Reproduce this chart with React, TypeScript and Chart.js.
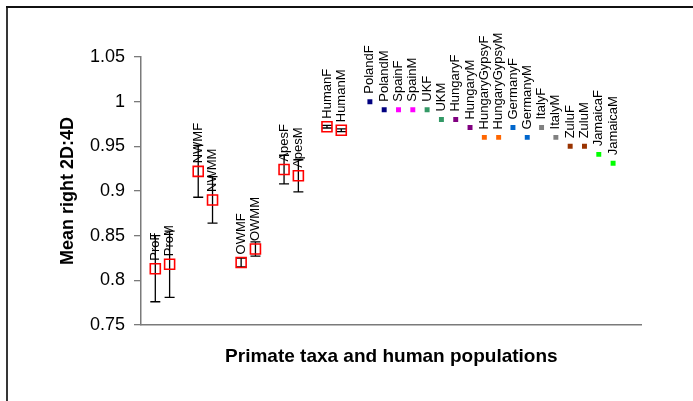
import React, { useEffect, useRef } from 'react';
import { Chart, registerables } from 'chart.js';

Chart.register(...registerables);

// Slots along the x axis (blank strings are empty gaps between groups)
const categories = [
  'ProF', 'ProM', '', 'NWMF', 'NWMM', '', 'OWMF', 'OWMM', '', 'ApesF', 'ApesM', '',
  'HumanF', 'HumanM', '', 'PolandF', 'PolandM', 'SpainF', 'SpainM', 'UKF', 'UKM',
  'HungaryF', 'HungaryM', 'HungaryGypsyF', 'HungaryGypsyM', 'GermanyF', 'GermanyM',
  'ItalyF', 'ItalyM', 'ZuluF', 'ZuluM', 'JamaicaF', 'JamaicaM',
];

const primateLabels = ['ProF', 'ProM', 'NWMF', 'NWMM', 'OWMF', 'OWMM', 'ApesF', 'ApesM', 'HumanF', 'HumanM'];
const primateMeans = [0.813, 0.818, 0.922, 0.890, 0.820, 0.835, 0.924, 0.917, 0.972, 0.968];
const primateErrors = [0.037, 0.037, 0.029, 0.026, 0.005, 0.008, 0.016, 0.018, 0.0015, 0.0015];

const populationLabels = [
  'PolandF', 'PolandM', 'SpainF', 'SpainM', 'UKF', 'UKM', 'HungaryF', 'HungaryM',
  'HungaryGypsyF', 'HungaryGypsyM', 'GermanyF', 'GermanyM', 'ItalyF', 'ItalyM',
  'ZuluF', 'ZuluM', 'JamaicaF', 'JamaicaM',
];
const populationMeans = [
  1.000, 0.991, 0.991, 0.991, 0.991, 0.980, 0.980, 0.971,
  0.960, 0.960, 0.971, 0.960, 0.971, 0.960,
  0.950, 0.950, 0.941, 0.931,
];
const populationColors = [
  '#000080', '#000080', '#FF00FF', '#FF00FF', '#339966', '#339966', '#800080', '#800080',
  '#FF6600', '#FF6600', '#0066CC', '#0066CC', '#808080', '#808080',
  '#993300', '#993300', '#00FF00', '#00FF00',
];

const yTicks = [0.75, 0.8, 0.85, 0.9, 0.95, 1, 1.05];

const FONT = '"Liberation Sans", Arial, Helvetica, sans-serif';

const slotOf = (label: string) => categories.indexOf(label) + 1;

const labelsByDataset = [primateLabels, populationLabels];

const decorPlugin = {
  id: 'decor',
  beforeDatasetsDraw(chart: any) {
    const { ctx } = chart;
    const yScale = chart.scales.y;
    const meta = chart.getDatasetMeta(0);
    ctx.save();
    ctx.strokeStyle = '#000';
    ctx.lineWidth = 1.3;
    meta.data.forEach((el: any, i: number) => {
      const m = primateMeans[i];
      const e = primateErrors[i];
      const yt = yScale.getPixelForValue(m + e);
      const yb = yScale.getPixelForValue(m - e);
      const x = el.x;
      ctx.beginPath();
      ctx.moveTo(x, yt);
      ctx.lineTo(x, yb);
      ctx.moveTo(x - 5, yt);
      ctx.lineTo(x + 5, yt);
      ctx.moveTo(x - 5, yb);
      ctx.lineTo(x + 5, yb);
      ctx.stroke();
    });
    ctx.restore();
  },
  afterDatasetsDraw(chart: any) {
    const { ctx, chartArea } = chart;
    ctx.save();
    ctx.fillStyle = '#000';
    ctx.font = `13px ${FONT}`;
    ctx.textAlign = 'left';
    ctx.textBaseline = 'middle';
    labelsByDataset.forEach((labels, di) => {
      const meta = chart.getDatasetMeta(di);
      meta.data.forEach((el: any, i: number) => {
        ctx.save();
        ctx.translate(el.x, el.y - 8);
        ctx.rotate(-Math.PI / 2);
        ctx.fillText(labels[i], 0, 0);
        ctx.restore();
      });
    });
    // axis titles
    ctx.font = `bold 19px ${FONT}`;
    ctx.textAlign = 'center';
    ctx.textBaseline = 'alphabetic';
    ctx.fillText('Primate taxa and human populations', (chartArea.left + chartArea.right) / 2, chartArea.bottom + 37);
    ctx.font = `bold 18px ${FONT}`;
    ctx.save();
    ctx.translate(chartArea.left - 73, (chartArea.top + chartArea.bottom) / 2);
    ctx.rotate(-Math.PI / 2);
    ctx.textBaseline = 'middle';
    ctx.fillText('Mean right 2D:4D', 0, 0);
    ctx.restore();
    ctx.restore();
  },
};

export default function App() {
  const canvasRef = useRef<HTMLCanvasElement | null>(null);

  useEffect(() => {
    if (!canvasRef.current) return;
    const chart = new Chart(canvasRef.current, {
      type: 'scatter',
      data: {
        datasets: [
          {
            label: 'Primates',
            data: primateLabels.map((l, i) => ({ x: slotOf(l), y: primateMeans[i] })),
            pointStyle: 'rect',
            pointRadius: 7.07,
            pointHoverRadius: 7.07,
            borderColor: '#FF0000',
            backgroundColor: 'rgba(0,0,0,0)',
            pointBorderWidth: 1.6,
          },
          {
            label: 'Populations',
            data: populationLabels.map((l, i) => ({ x: slotOf(l), y: populationMeans[i] })),
            pointStyle: 'rect',
            pointRadius: 3.5,
            pointHoverRadius: 3.5,
            pointBackgroundColor: populationColors,
            pointBorderColor: populationColors,
            pointBorderWidth: 0,
          },
        ],
      },
      options: {
        responsive: false,
        animation: false,
        events: [],
        layout: { padding: { top: 49, right: 51.3, bottom: 0, left: 0 } },
        plugins: { legend: { display: false }, tooltip: { enabled: false }, title: { display: false } },
        scales: {
          x: {
            type: 'linear',
            min: 0,
            max: 35,
            ticks: { display: false },
            grid: { display: false },
            border: { display: true, color: '#7a7a7a', width: 1.5 },
            afterFit: (s: any) => { s.height = 76; },
          },
          y: {
            min: 0.75,
            max: 1.05,
            afterBuildTicks: (s: any) => { s.ticks = yTicks.map((v) => ({ value: v })); },
            ticks: {
              color: '#000',
              padding: 9,
              font: { family: FONT, size: 18 },
              callback: (v: any) => String(Number(Number(v).toFixed(2))),
            },
            grid: { display: true, drawOnChartArea: false, drawTicks: true, tickLength: 7, color: '#7a7a7a', lineWidth: 1.3 },
            border: { display: true, color: '#7a7a7a', width: 1.5 },
            afterFit: (s: any) => { s.width = 133; },
          },
        },
      },
      plugins: [decorPlugin],
    } as any);
    return () => chart.destroy();
  }, []);

  return (
    <div style={{ position: 'relative', width: 685, height: 393 }}>
      <canvas ref={canvasRef} width={685} height={393} style={{ display: 'block', width: 685, height: 393 }} />
      <div style={{ position: 'fixed', left: 6, top: 6, width: 2, height: 395, background: '#363636' }} />
      <div style={{ position: 'fixed', left: 6, top: 6, width: 687, height: 2, background: '#111111' }} />
    </div>
  );
}
